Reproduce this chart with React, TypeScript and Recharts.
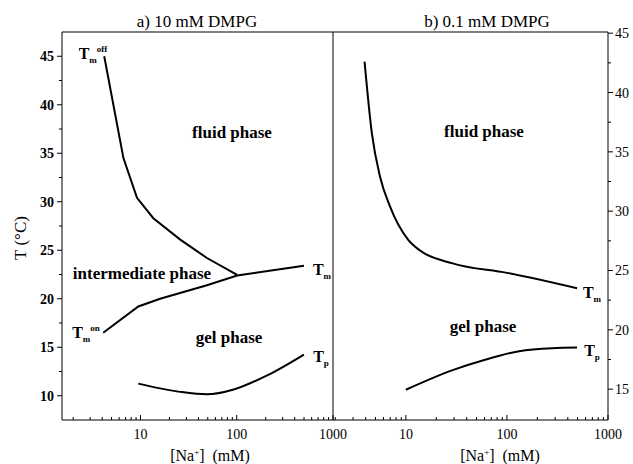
import { LineChart, Line, XAxis, YAxis, ReferenceLine } from "recharts";

const W = 633;
const H = 464;
const FONT = "Liberation Serif";

// panel a) 10 mM DMPG  — [Na+] in mM, T in °C
const tmOffNa = [4.2, 6.65, 9.2, 13.6, 25.9, 49, 101];
const tmOffT = [45, 34.5, 30.4, 28.3, 26.1, 24.2, 22.45];
const tmOnNa = [4.1, 9.5, 16, 49, 101, 499];
const tmOnT = [16.5, 19.2, 20.0, 21.4, 22.4, 23.4];
const tpANa = [9.5, 25.9, 49, 93, 207, 499];
const tpAT = [11.25, 10.4, 10.15, 10.65, 12.1, 14.25];

// panel b) 0.1 mM DMPG
const tmBNa = [3.9, 4.6, 5.55, 6.96, 10.5, 13.7, 29, 100, 494];
const tmBT = [42.6, 36.6, 32.9, 30.4, 27.6, 26.7, 25.6, 24.8, 23.5];
const tpBNa = [10, 29, 62, 132, 281, 494];
const tpBT = [14.95, 16.6, 17.5, 18.2, 18.45, 18.5];

// ticks
const naTicks = [2, 3, 4, 5, 6, 7, 8, 9, 10, 20, 30, 40, 50, 60, 70, 80, 90, 100, 200, 300, 400, 500, 600, 700, 800, 900, 1000];
const naLabels = [10, 100, 1000];
const tTicksA = [10, 12.5, 15, 17.5, 20, 22.5, 25, 27.5, 30, 32.5, 35, 37.5, 40, 42.5, 45];
const tTicksB = [15, 17.5, 20, 22.5, 25, 27.5, 30, 32.5, 35, 37.5, 40, 42.5, 45];

const pts = (xs: number[], ys: number[]) => xs.map((x, i) => ({ na: x, t: ys[i] }));

function XTick(props: any) {
    const { x, y, payload } = props;
    const v = payload.value;
    const big = naLabels.includes(v);
    return (
        <g>
            <line x1={x} x2={x} y1={y} y2={y - (big ? 5 : 3)} stroke="#000" />
            {big && (
                <text x={x} y={y + 19} textAnchor="middle" fill="#000" fontFamily={FONT} fontSize={14}>
                    {v}
                </text>
            )}
        </g>
    );
}

function YTickLeft(props: any) {
    const { x, y, payload } = props;
    const v = payload.value;
    const big = v % 5 === 0;
    return (
        <g>
            <line x1={x} x2={x - (big ? 5 : 3)} y1={y} y2={y} stroke="#000" />
            {big && (
                <text x={x - 8} y={y + 5} textAnchor="end" fill="#000" fontFamily={FONT} fontSize={14} fontWeight="bold">
                    {v}
                </text>
            )}
        </g>
    );
}

function YTickRight(props: any) {
    const { x, y, payload } = props;
    const v = payload.value;
    const big = v % 5 === 0;
    return (
        <g>
            <line x1={x} x2={x + (big ? 5 : 3)} y1={y} y2={y} stroke="#000" />
            {big && (
                <text x={x + 7} y={y + 5} textAnchor="start" fill="#000" fontFamily={FONT} fontSize={14}>
                    {v}
                </text>
            )}
        </g>
    );
}

function Txt({ x, y, size = 17, bold = false, rotate = 0, children }: any) {
    return (
        <div
            style={{
                position: "absolute",
                left: x,
                top: y,
                transform: `translate(-50%, -50%) rotate(${rotate}deg)`,
                fontFamily: FONT,
                fontSize: size,
                fontWeight: bold ? 700 : 400,
                whiteSpace: "nowrap",
                lineHeight: 1,
                color: "#000",
            }}
        >
            {children}
        </div>
    );
}

const sub = { fontSize: 9, verticalAlign: "-4px" };
const sup = { fontSize: 9, verticalAlign: "7px" };

function CurveLabel({ x, y, s, p }: any) {
    return (
        <Txt x={x} y={y} size={16} bold>
            T<span style={sub}>{s}</span>
            {p && <span style={sup}>{p}</span>}
        </Txt>
    );
}

const lineProps = {
    dataKey: "t",
    stroke: "#000",
    strokeWidth: 2,
    dot: false,
    isAnimationActive: false,
};

export default function App() {
    return (
        <div style={{ position: "absolute", left: 0, top: 0, width: W, height: H, background: "#fff" }}>
            <style>{`.recharts-surface { overflow: visible; }`}</style>
            <div style={{ position: "absolute", left: 0, top: 0 }}>
                <LineChart width={333} height={H} margin={{ top: 32, right: 0, bottom: 0, left: 0 }}>
                    <XAxis
                        type="number"
                        dataKey="na"
                        scale="log"
                        domain={[1.53, 1000]}
                        allowDataOverflow
                        ticks={naTicks}
                        interval={0}
                        tickSize={0}
                        tickMargin={0}
                        tick={<XTick />}
                        height={44}
                        stroke="#000"
                    />
                    <YAxis
                        type="number"
                        dataKey="t"
                        domain={[7.5, 47.5]}
                        allowDataOverflow
                        ticks={tTicksA}
                        interval={0}
                        tickSize={0}
                        tickMargin={0}
                        tick={<YTickLeft />}
                        width={62}
                        stroke="#000"
                    />
                    <ReferenceLine y={47.5} stroke="#000" />
                    <ReferenceLine x={1000} stroke="#000" />
                    <Line {...lineProps} data={pts(tmOffNa, tmOffT)} type="linear" />
                    <Line {...lineProps} data={pts(tmOnNa, tmOnT)} type="linear" />
                    <Line {...lineProps} data={pts(tpANa, tpAT)} type="monotone" />
                </LineChart>
            </div>
            <div style={{ position: "absolute", left: 333, top: 0 }}>
                <LineChart width={300} height={H} margin={{ top: 32, right: 0, bottom: 0, left: 0 }}>
                    <XAxis
                        type="number"
                        dataKey="na"
                        scale="log"
                        domain={[1.9, 1000]}
                        allowDataOverflow
                        ticks={naTicks}
                        interval={0}
                        tickSize={0}
                        tickMargin={0}
                        tick={<XTick />}
                        height={44}
                        stroke="#000"
                    />
                    <YAxis
                        type="number"
                        dataKey="t"
                        orientation="right"
                        domain={[12.4, 45.1]}
                        allowDataOverflow
                        ticks={tTicksB}
                        interval={0}
                        tickSize={0}
                        tickMargin={0}
                        tick={<YTickRight />}
                        width={25}
                        stroke="#000"
                    />
                    <ReferenceLine y={45.1} stroke="#000" />
                    <Line {...lineProps} data={pts(tmBNa, tmBT)} type="monotone" />
                    <Line {...lineProps} data={pts(tpBNa, tpBT)} type="monotone" />
                </LineChart>
            </div>

            <Txt x={197} y={21}>a) 10 mM DMPG</Txt>
            <Txt x={487} y={21}>b) 0.1 mM DMPG</Txt>
            <Txt x={20} y={238} rotate={-90}>T (°C)</Txt>
            <Txt x={210} y={456} size={16}>
                [Na<sup style={{ fontSize: 9 }}>+</sup>]&nbsp;&nbsp;(mM)
            </Txt>
            <Txt x={500} y={456} size={16}>
                [Na<sup style={{ fontSize: 9 }}>+</sup>]&nbsp;&nbsp;(mM)
            </Txt>

            <Txt x={232} y={132} bold>fluid phase</Txt>
            <Txt x={142} y={273} bold>intermediate phase</Txt>
            <Txt x={229} y={337} bold>gel phase</Txt>
            <Txt x={484} y={131} bold>fluid phase</Txt>
            <Txt x={483} y={326} bold>gel phase</Txt>

            <CurveLabel x={93} y={55} s="m" p="off" />
            <CurveLabel x={86} y={334} s="m" p="on" />
            <CurveLabel x={322} y={271} s="m" />
            <CurveLabel x={321} y={358} s="p" />
            <CurveLabel x={592} y={294} s="m" />
            <CurveLabel x={592} y={352} s="p" />
        </div>
    );
}
